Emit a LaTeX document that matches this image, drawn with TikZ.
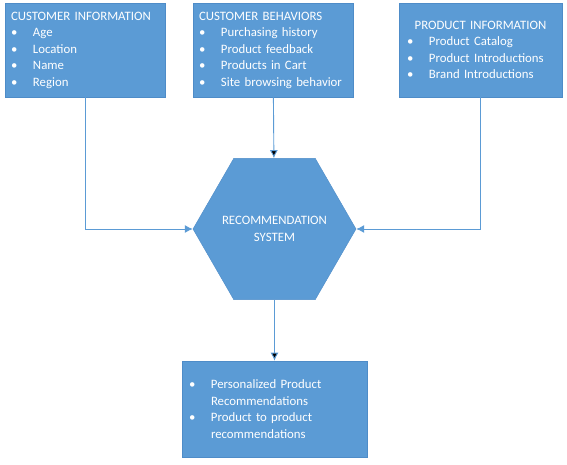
\documentclass[tikz,border=0pt]{standalone}
\usepackage{fontspec}
\setmainfont{Carlito}
\usetikzlibrary{shapes.geometric, arrows.meta, positioning}
\definecolor{boxblue}{HTML}{5B9BD5}
\definecolor{edgeblue}{HTML}{4E8CC8}
\definecolor{lineblue}{HTML}{5B9BD5}
\newcommand{\bul}[1]{\makebox[22pt][l]{\textbullet}#1}

\begin{document}
\begin{tikzpicture}[x=1pt, y=-1pt,
    font=\fontsize{12.8}{16.5}\selectfont,
    infobox/.style={draw=edgeblue, fill=boxblue, text=white, line width=0.6pt,
      minimum height=94pt, inner xsep=6pt, align=left},
    hexa/.style={regular polygon, regular polygon sides=6, draw=edgeblue,
      fill=boxblue, text=white, minimum size=163pt, align=center, inner sep=0pt},
    link/.style={draw=lineblue, line width=0.9pt, -{Latex[length=8pt,width=8pt]}}]
   \useasboundingbox (0,0) rectangle (567,465);

   \node[infobox, text width=148pt] (custinfo) at (85,50)
     {CUSTOMER INFORMATION\\\bul{Age}\\\bul{Location}\\\bul{Name}\\\bul{Region}};
   \node[infobox, text width=148pt] (custbehav) at (273,50)
     {CUSTOMER BEHAVIORS\\\bul{Purchasing history}\\\bul{Product feedback}\\\bul{Products in Cart}\\\bul{Site browsing behavior}};
   \node[infobox, text width=147pt, inner xsep=8pt] (prodinfo) at (480.5,50)
     {\makebox[147pt][c]{PRODUCT INFORMATION}\\\bul{Product Catalog}\\\bul{Product Introductions}\\\bul{Brand Introductions}};
   \node[hexa] (recsys) at (274.5,229)
     {\makebox[0pt]{RECOMMENDATION}\\\makebox[0pt]{SYSTEM}};
   \node[infobox, text width=171pt, inner xsep=7pt, minimum height=96pt] (output) at (274.5,409)
     {\bul{Personalized Product}\\\hspace*{22pt}Recommendations\\\bul{Product to product}\\\hspace*{22pt}recommendations};

   \draw[link] (custinfo.south) |- (recsys.west);
   \draw[link] (prodinfo.south) |- (recsys.east);
   \path[link]
    (custbehav) edge (recsys)
    (recsys) edge (output);
\end{tikzpicture}
\end{document}
